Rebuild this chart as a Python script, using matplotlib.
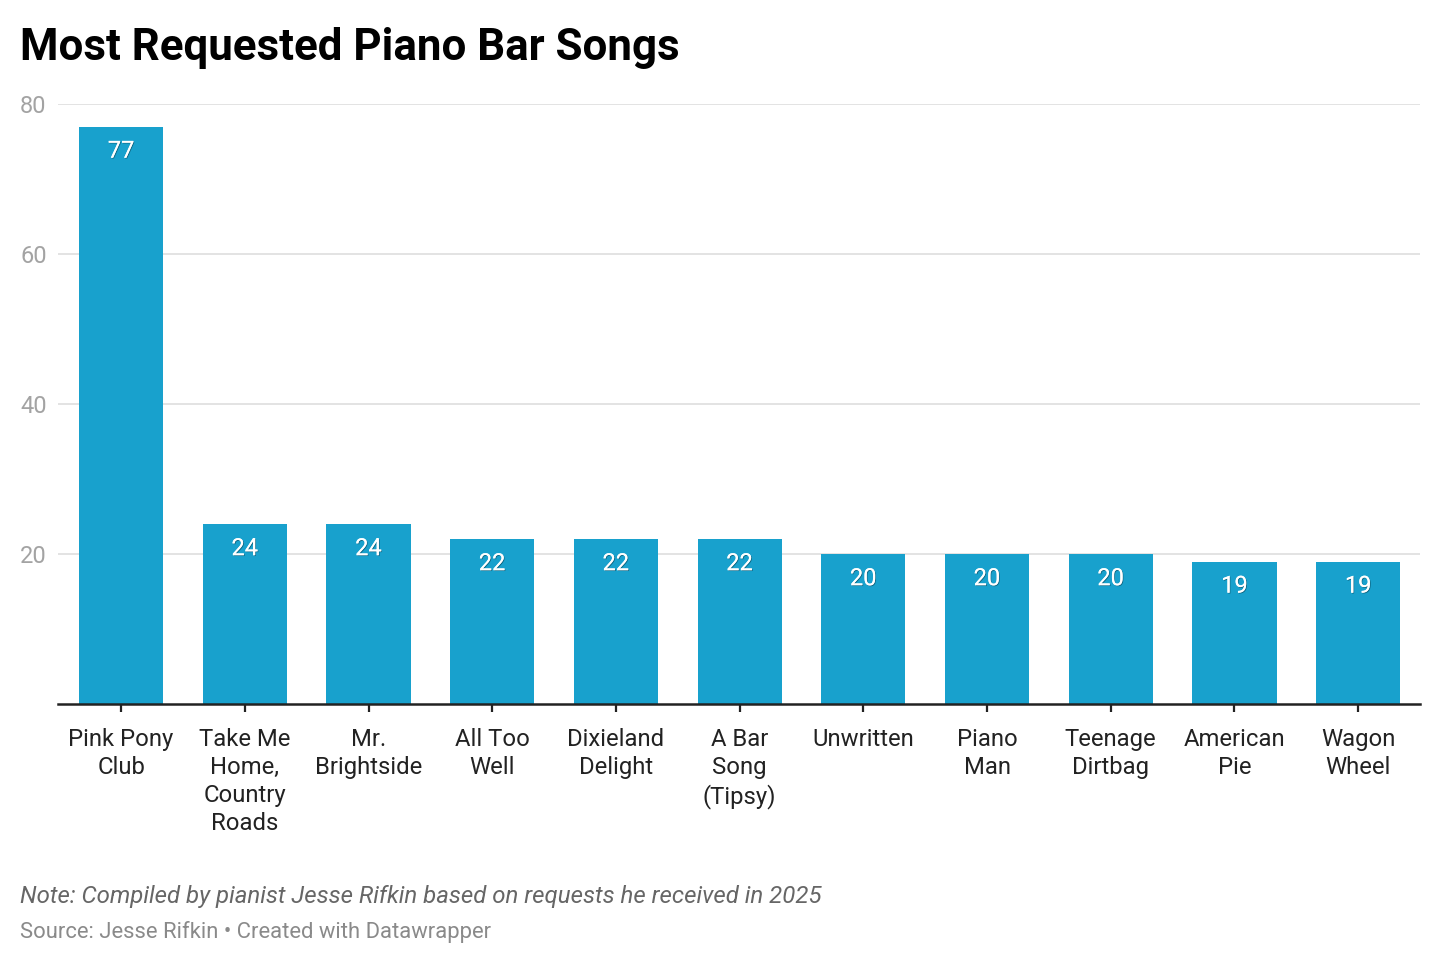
import matplotlib
matplotlib.use("Agg")
import matplotlib.pyplot as plt
import matplotlib.patheffects as pe
import matplotlib.transforms as mtrans

categories = ["Pink Pony\nClub", "Take Me\nHome,\nCountry\nRoads", "Mr.\nBrightside",
              "All Too\nWell", "Dixieland\nDelight", "A Bar\nSong\n(Tipsy)", "Unwritten",
              "Piano\nMan", "Teenage\nDirtbag", "American\nPie", "Wagon\nWheel"]
values = [77, 24, 24, 22, 22, 22, 20, 20, 20, 19, 19]
yticks = [20, 40, 60, 80]

plt.rcParams['font.family'] = ['Roboto', 'DejaVu Sans']

W, H = 1440, 966
fig = plt.figure(figsize=(W / 100, H / 100), dpi=100)
ax = fig.add_axes([58 / W, 1 - 704 / H, (1420 - 58) / W, (704 - 104) / H])

x = list(range(len(values)))
ax.bar(x, values, width=0.68, color="#18a1cd", zorder=2)
ax.set_xlim(-0.51, len(values) - 0.5)
ax.set_ylim(0, 80)

for xi, v in zip(x, values):
    t = ax.annotate(str(v), (xi, v), xytext=(0, -9.5), textcoords="offset points",
                    ha="center", va="top", color="white", fontsize=17, zorder=3)
    t.set_path_effects([pe.withSimplePatchShadow(offset=(0.6, -0.6), shadow_rgbFace="black", alpha=0.35),
                        pe.Normal()])

ax.set_yticks(yticks)
ax.set_yticklabels([str(t) for t in yticks])
ax.yaxis.grid(True, color="#e3e3e3", linewidth=1.4, zorder=0)
ax.tick_params(axis="y", length=0, labelsize=17, labelcolor="#a3a3a3", pad=0)
for lbl in ax.get_yticklabels():
    lbl.set_horizontalalignment("left")
    lbl.set_transform(mtrans.blended_transform_factory(fig.transFigure, ax.transData))
    lbl.set_x(20 / W)

ax.set_xticks(x)
ax.set_xticklabels(categories, fontsize=17.2, color="#222222", linespacing=1.28)
ax.tick_params(axis="x", length=6, width=1.6, color="#222222", pad=11, direction="out")

for s in ["top", "right", "left"]:
    ax.spines[s].set_visible(False)
ax.spines["bottom"].set_color("#222222")
ax.spines["bottom"].set_linewidth(1.8)
ax.spines["bottom"].set_zorder(4)
ax.set_axisbelow(True)

fig.text(20 / W, 1 - 48 / H, "Most Requested Piano Bar Songs", fontsize=31.6,
         fontweight="bold", color="#000000", va="center", ha="left")
fig.text(20 / W, 1 - 896 / H, "Note: Compiled by pianist Jesse Rifkin based on requests he received in 2025",
         fontsize=17.3, style="italic", color="#666666", va="center", ha="left")
fig.text(20 / W, 1 - 932 / H, "Source: Jesse Rifkin • Created with Datawrapper",
         fontsize=15.8, color="#8a8a8a", va="center", ha="left")

fig.savefig("out.png", dpi=100, facecolor="white")
